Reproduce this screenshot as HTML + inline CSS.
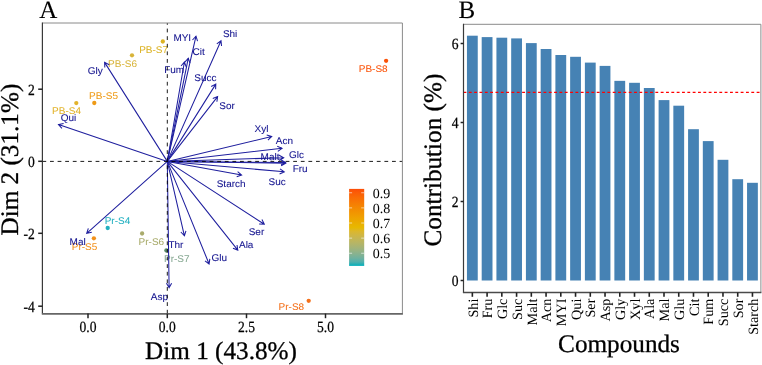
<!DOCTYPE html>
<html><head><meta charset="utf-8"><style>html,body{margin:0;padding:0;background:#fff;}svg{display:block;will-change:transform;}text{text-rendering:geometricPrecision;}</style></head>
<body><svg width="762" height="365" viewBox="0 0 762 365">
<rect width="762" height="365" fill="#fff"/>
<circle cx="386.1" cy="60.8" r="2.15" fill="#fb5208"/>
<circle cx="308.7" cy="300.8" r="2.15" fill="#f4701a"/>
<circle cx="162.8" cy="41.5" r="2.15" fill="#dcb324"/>
<circle cx="132.0" cy="55.3" r="2.15" fill="#d8b43a"/>
<circle cx="94.3" cy="103.0" r="2.15" fill="#ee9a16"/>
<circle cx="76.3" cy="103.1" r="2.15" fill="#e2b32a"/>
<circle cx="107.7" cy="228.0" r="2.15" fill="#22b0c0"/>
<circle cx="93.9" cy="238.3" r="2.15" fill="#f2901a"/>
<circle cx="142.1" cy="233.5" r="2.15" fill="#a9ab6c"/>
<circle cx="166.4" cy="250.5" r="2.15" fill="#5a8a68"/>
<text transform="translate(358.8,72.39999999999999) scale(1.03,1)" font-family="Liberation Sans, sans-serif" font-size="9.7" fill="#fb5208" stroke="#fb5208" stroke-width="0.05">PB-S8</text>
<text transform="translate(278.6,310.1) scale(1.03,1)" font-family="Liberation Sans, sans-serif" font-size="9.7" fill="#f4701a" stroke="#f4701a" stroke-width="0.05">Pr-S8</text>
<text transform="translate(139.20000000000002,52.9) scale(1.03,1)" font-family="Liberation Sans, sans-serif" font-size="9.7" fill="#dcb324" stroke="#dcb324" stroke-width="0.05">PB-S7</text>
<text transform="translate(108.1,67.19999999999999) scale(1.03,1)" font-family="Liberation Sans, sans-serif" font-size="9.7" fill="#d8b43a" stroke="#d8b43a" stroke-width="0.05">PB-S6</text>
<text transform="translate(89.1,99.0) scale(1.03,1)" font-family="Liberation Sans, sans-serif" font-size="9.7" fill="#ee9a16" stroke="#ee9a16" stroke-width="0.05">PB-S5</text>
<text transform="translate(52.099999999999994,114.19999999999999) scale(1.03,1)" font-family="Liberation Sans, sans-serif" font-size="9.7" fill="#e2b32a" stroke="#e2b32a" stroke-width="0.05">PB-S4</text>
<text transform="translate(104.7,224.1) scale(1.03,1)" font-family="Liberation Sans, sans-serif" font-size="9.7" fill="#22b0c0" stroke="#22b0c0" stroke-width="0.05">Pr-S4</text>
<text transform="translate(71.8,250.0) scale(1.03,1)" font-family="Liberation Sans, sans-serif" font-size="9.7" fill="#f2901a" stroke="#f2901a" stroke-width="0.05">Pr-S5</text>
<text transform="translate(138.60000000000002,245.1) scale(1.03,1)" font-family="Liberation Sans, sans-serif" font-size="9.7" fill="#a9ab6c" stroke="#a9ab6c" stroke-width="0.05">Pr-S6</text>
<text transform="translate(164.0,262.20000000000005) scale(1.03,1)" font-family="Liberation Sans, sans-serif" font-size="9.7" fill="#86a892" stroke="#86a892" stroke-width="0.05">Pr-S7</text>
<path d="M167.3,161.4L196.00,36.20M192.46,40.01L196.00,36.20L197.53,41.17" fill="none" stroke="#1f1f9e" stroke-width="1.05" stroke-linejoin="miter"/>
<path d="M167.3,161.4L221.00,40.80M216.79,43.86L221.00,40.80L221.54,45.97" fill="none" stroke="#1f1f9e" stroke-width="1.05" stroke-linejoin="miter"/>
<path d="M167.3,161.4L188.30,58.20M184.85,62.09L188.30,58.20L189.95,63.13" fill="none" stroke="#1f1f9e" stroke-width="1.05" stroke-linejoin="miter"/>
<path d="M167.3,161.4L184.40,62.00M181.07,66.00L184.40,62.00L186.20,66.88" fill="none" stroke="#1f1f9e" stroke-width="1.05" stroke-linejoin="miter"/>
<path d="M167.3,161.4L215.80,84.10M211.20,86.53L215.80,84.10L215.61,89.30" fill="none" stroke="#1f1f9e" stroke-width="1.05" stroke-linejoin="miter"/>
<path d="M167.3,161.4L217.60,96.60M212.78,98.56L217.60,96.60L216.89,101.75" fill="none" stroke="#1f1f9e" stroke-width="1.05" stroke-linejoin="miter"/>
<path d="M167.3,161.4L104.60,62.40M104.81,67.60L104.60,62.40L109.21,64.81" fill="none" stroke="#1f1f9e" stroke-width="1.05" stroke-linejoin="miter"/>
<path d="M167.3,161.4L58.50,124.50M61.93,128.41L58.50,124.50L63.60,123.48" fill="none" stroke="#1f1f9e" stroke-width="1.05" stroke-linejoin="miter"/>
<path d="M167.3,161.4L271.70,136.50M266.72,135.02L271.70,136.50L267.92,140.07" fill="none" stroke="#1f1f9e" stroke-width="1.05" stroke-linejoin="miter"/>
<path d="M167.3,161.4L282.00,148.30M277.23,146.23L282.00,148.30L277.82,151.39" fill="none" stroke="#1f1f9e" stroke-width="1.05" stroke-linejoin="miter"/>
<path d="M167.3,161.4L283.70,157.70M279.12,155.24L283.70,157.70L279.28,160.44" fill="none" stroke="#1f1f9e" stroke-width="1.05" stroke-linejoin="miter"/>
<path d="M167.3,161.4L285.60,162.50M281.12,159.86L285.60,162.50L281.07,165.06" fill="none" stroke="#1f1f9e" stroke-width="1.05" stroke-linejoin="miter"/>
<path d="M167.3,161.4L285.70,163.30M281.24,160.63L285.70,163.30L281.16,165.83" fill="none" stroke="#1f1f9e" stroke-width="1.05" stroke-linejoin="miter"/>
<path d="M167.3,161.4L284.30,171.80M280.04,168.81L284.30,171.80L279.58,173.99" fill="none" stroke="#1f1f9e" stroke-width="1.05" stroke-linejoin="miter"/>
<path d="M167.3,161.4L241.60,175.00M237.64,171.63L241.60,175.00L236.70,176.75" fill="none" stroke="#1f1f9e" stroke-width="1.05" stroke-linejoin="miter"/>
<path d="M167.3,161.4L264.30,224.20M261.93,219.57L264.30,224.20L259.11,223.94" fill="none" stroke="#1f1f9e" stroke-width="1.05" stroke-linejoin="miter"/>
<path d="M167.3,161.4L237.80,250.10M237.03,244.96L237.80,250.10L232.96,248.19" fill="none" stroke="#1f1f9e" stroke-width="1.05" stroke-linejoin="miter"/>
<path d="M167.3,161.4L209.10,264.00M209.81,258.85L209.10,264.00L204.99,260.81" fill="none" stroke="#1f1f9e" stroke-width="1.05" stroke-linejoin="miter"/>
<path d="M167.3,161.4L184.40,235.80M185.93,230.83L184.40,235.80L180.86,231.99" fill="none" stroke="#1f1f9e" stroke-width="1.05" stroke-linejoin="miter"/>
<path d="M167.3,161.4L169.10,287.80M171.64,283.26L169.10,287.80L166.44,283.33" fill="none" stroke="#1f1f9e" stroke-width="1.05" stroke-linejoin="miter"/>
<path d="M167.3,161.4L86.70,233.30M91.79,232.24L86.70,233.30L88.33,228.36" fill="none" stroke="#1f1f9e" stroke-width="1.05" stroke-linejoin="miter"/>
<text transform="translate(173.4,40.6) scale(1.03,1)" font-family="Liberation Sans, sans-serif" font-size="9.7" fill="#14148f" stroke="#14148f" stroke-width="0.08">MYI</text>
<text transform="translate(222.9,37.400000000000006) scale(1.03,1)" font-family="Liberation Sans, sans-serif" font-size="9.7" fill="#14148f" stroke="#14148f" stroke-width="0.08">Shi</text>
<text transform="translate(192.6,54.5) scale(1.03,1)" font-family="Liberation Sans, sans-serif" font-size="9.7" fill="#14148f" stroke="#14148f" stroke-width="0.08">Cit</text>
<text transform="translate(164.2,73.10000000000001) scale(1.03,1)" font-family="Liberation Sans, sans-serif" font-size="9.7" fill="#14148f" stroke="#14148f" stroke-width="0.08">Fum</text>
<text transform="translate(194.3,80.5) scale(1.03,1)" font-family="Liberation Sans, sans-serif" font-size="9.7" fill="#14148f" stroke="#14148f" stroke-width="0.08">Succ</text>
<text transform="translate(219.3,108.8) scale(1.03,1)" font-family="Liberation Sans, sans-serif" font-size="9.7" fill="#14148f" stroke="#14148f" stroke-width="0.08">Sor</text>
<text transform="translate(87.7,73.8) scale(1.03,1)" font-family="Liberation Sans, sans-serif" font-size="9.7" fill="#14148f" stroke="#14148f" stroke-width="0.08">Gly</text>
<text transform="translate(60.7,120.8) scale(1.03,1)" font-family="Liberation Sans, sans-serif" font-size="9.7" fill="#14148f" stroke="#14148f" stroke-width="0.08">Qui</text>
<text transform="translate(254.6,132.0) scale(1.03,1)" font-family="Liberation Sans, sans-serif" font-size="9.7" fill="#14148f" stroke="#14148f" stroke-width="0.08">Xyl</text>
<text transform="translate(275.8,144.1) scale(1.03,1)" font-family="Liberation Sans, sans-serif" font-size="9.7" fill="#14148f" stroke="#14148f" stroke-width="0.08">Acn</text>
<text transform="translate(260.6,159.79999999999998) scale(1.03,1)" font-family="Liberation Sans, sans-serif" font-size="9.7" fill="#14148f" stroke="#14148f" stroke-width="0.08">Malt</text>
<text transform="translate(288.9,158.0) scale(1.03,1)" font-family="Liberation Sans, sans-serif" font-size="9.7" fill="#14148f" stroke="#14148f" stroke-width="0.08">Glc</text>
<text transform="translate(292.7,171.7) scale(1.03,1)" font-family="Liberation Sans, sans-serif" font-size="9.7" fill="#14148f" stroke="#14148f" stroke-width="0.08">Fru</text>
<text transform="translate(268.6,185.2) scale(1.03,1)" font-family="Liberation Sans, sans-serif" font-size="9.7" fill="#14148f" stroke="#14148f" stroke-width="0.08">Suc</text>
<text transform="translate(216.7,187.0) scale(1.03,1)" font-family="Liberation Sans, sans-serif" font-size="9.7" fill="#14148f" stroke="#14148f" stroke-width="0.08">Starch</text>
<text transform="translate(248.7,234.7) scale(1.03,1)" font-family="Liberation Sans, sans-serif" font-size="9.7" fill="#14148f" stroke="#14148f" stroke-width="0.08">Ser</text>
<text transform="translate(239.0,247.6) scale(1.03,1)" font-family="Liberation Sans, sans-serif" font-size="9.7" fill="#14148f" stroke="#14148f" stroke-width="0.08">Ala</text>
<text transform="translate(211.4,261.09999999999997) scale(1.03,1)" font-family="Liberation Sans, sans-serif" font-size="9.7" fill="#14148f" stroke="#14148f" stroke-width="0.08">Glu</text>
<text transform="translate(168.4,247.7) scale(1.03,1)" font-family="Liberation Sans, sans-serif" font-size="9.7" fill="#14148f" stroke="#14148f" stroke-width="0.08">Thr</text>
<text transform="translate(150.8,299.9) scale(1.03,1)" font-family="Liberation Sans, sans-serif" font-size="9.7" fill="#14148f" stroke="#14148f" stroke-width="0.08">Asp</text>
<text transform="translate(69.6,244.89999999999998) scale(1.03,1)" font-family="Liberation Sans, sans-serif" font-size="9.7" fill="#14148f" stroke="#14148f" stroke-width="0.08">Mal</text>
<line x1="42.4" y1="161.4" x2="402.4" y2="161.4" stroke="#000" stroke-width="0.9" stroke-dasharray="3.8 3.8"/>
<line x1="167.3" y1="313.6" x2="167.3" y2="23.0" stroke="#000" stroke-width="0.9" stroke-dasharray="3.8 3.8"/>
<defs><linearGradient id="cb" x1="0" y1="1" x2="0" y2="0"><stop offset="0.000" stop-color="#00afbb"/><stop offset="0.050" stop-color="#4fb0ad"/><stop offset="0.100" stop-color="#6fb19f"/><stop offset="0.150" stop-color="#85b291"/><stop offset="0.200" stop-color="#98b383"/><stop offset="0.250" stop-color="#a8b474"/><stop offset="0.300" stop-color="#b7b565"/><stop offset="0.350" stop-color="#c4b655"/><stop offset="0.400" stop-color="#d0b643"/><stop offset="0.450" stop-color="#dcb72c"/><stop offset="0.500" stop-color="#e7b800"/><stop offset="0.550" stop-color="#eaaf00"/><stop offset="0.600" stop-color="#eda600"/><stop offset="0.650" stop-color="#f09d01"/><stop offset="0.700" stop-color="#f29301"/><stop offset="0.750" stop-color="#f48a02"/><stop offset="0.800" stop-color="#f67f03"/><stop offset="0.850" stop-color="#f87404"/><stop offset="0.900" stop-color="#f96905"/><stop offset="0.950" stop-color="#fb5c06"/><stop offset="1.000" stop-color="#fc4e07"/></linearGradient></defs>
<rect x="349.1" y="188.9" width="15.1" height="77" fill="url(#cb)"/>
<line x1="349.1" y1="192.75" x2="352.1" y2="192.75" stroke="#fff" stroke-width="0.6"/><line x1="361.2" y1="192.75" x2="364.2" y2="192.75" stroke="#fff" stroke-width="0.6"/>
<text x="372.8" y="197.55" font-family="Liberation Serif, serif" font-size="14" fill="#000">0.9</text>
<line x1="349.1" y1="207.875" x2="352.1" y2="207.875" stroke="#fff" stroke-width="0.6"/><line x1="361.2" y1="207.875" x2="364.2" y2="207.875" stroke="#fff" stroke-width="0.6"/>
<text x="372.8" y="212.675" font-family="Liberation Serif, serif" font-size="14" fill="#000">0.8</text>
<line x1="349.1" y1="223.0" x2="352.1" y2="223.0" stroke="#fff" stroke-width="0.6"/><line x1="361.2" y1="223.0" x2="364.2" y2="223.0" stroke="#fff" stroke-width="0.6"/>
<text x="372.8" y="227.8" font-family="Liberation Serif, serif" font-size="14" fill="#000">0.7</text>
<line x1="349.1" y1="238.125" x2="352.1" y2="238.125" stroke="#fff" stroke-width="0.6"/><line x1="361.2" y1="238.125" x2="364.2" y2="238.125" stroke="#fff" stroke-width="0.6"/>
<text x="372.8" y="242.925" font-family="Liberation Serif, serif" font-size="14" fill="#000">0.6</text>
<line x1="349.1" y1="253.25" x2="352.1" y2="253.25" stroke="#fff" stroke-width="0.6"/><line x1="361.2" y1="253.25" x2="364.2" y2="253.25" stroke="#fff" stroke-width="0.6"/>
<text x="372.8" y="258.05" font-family="Liberation Serif, serif" font-size="14" fill="#000">0.5</text>
<path d="M42.4,23.0H402.4V313.6" fill="none" stroke="#8a8a8a" stroke-width="1"/>
<path d="M42.4,22.5V313.6" fill="none" stroke="#3a3a3a" stroke-width="1.2"/>
<path d="M41.8,313.90000000000003H402.9" fill="none" stroke="#666" stroke-width="1.7"/>
<line x1="38.2" y1="89.2" x2="42.4" y2="89.2" stroke="#222" stroke-width="1.5"/>
<text transform="translate(34.9,94.8) scale(0.87,1)" font-family="Liberation Serif, serif" font-size="15.6" text-anchor="end" fill="#000" stroke="#000" stroke-width="0.25">2</text>
<line x1="38.2" y1="161.3" x2="42.4" y2="161.3" stroke="#222" stroke-width="1.5"/>
<text transform="translate(34.9,166.9) scale(0.87,1)" font-family="Liberation Serif, serif" font-size="15.6" text-anchor="end" fill="#000" stroke="#000" stroke-width="0.25">0</text>
<line x1="38.2" y1="233.3" x2="42.4" y2="233.3" stroke="#222" stroke-width="1.5"/>
<text transform="translate(34.9,238.9) scale(0.87,1)" font-family="Liberation Serif, serif" font-size="15.6" text-anchor="end" fill="#000" stroke="#000" stroke-width="0.25">-2</text>
<line x1="38.2" y1="306.2" x2="42.4" y2="306.2" stroke="#222" stroke-width="1.5"/>
<text transform="translate(34.9,311.8) scale(0.87,1)" font-family="Liberation Serif, serif" font-size="15.6" text-anchor="end" fill="#000" stroke="#000" stroke-width="0.25">-4</text>
<line x1="88.0" y1="313.6" x2="88.0" y2="318.2" stroke="#222" stroke-width="1.5"/>
<text transform="translate(88.0,331.8) scale(0.87,1)" font-family="Liberation Serif, serif" font-size="15.6" text-anchor="middle" fill="#000" stroke="#000" stroke-width="0.25">0.0</text>
<line x1="167.3" y1="313.6" x2="167.3" y2="318.2" stroke="#222" stroke-width="1.5"/>
<text transform="translate(167.3,331.8) scale(0.87,1)" font-family="Liberation Serif, serif" font-size="15.6" text-anchor="middle" fill="#000" stroke="#000" stroke-width="0.25">0.0</text>
<line x1="246.5" y1="313.6" x2="246.5" y2="318.2" stroke="#222" stroke-width="1.5"/>
<text transform="translate(246.5,331.8) scale(0.87,1)" font-family="Liberation Serif, serif" font-size="15.6" text-anchor="middle" fill="#000" stroke="#000" stroke-width="0.25">2.5</text>
<line x1="325.5" y1="313.6" x2="325.5" y2="318.2" stroke="#222" stroke-width="1.5"/>
<text transform="translate(325.5,331.8) scale(0.87,1)" font-family="Liberation Serif, serif" font-size="15.6" text-anchor="middle" fill="#000" stroke="#000" stroke-width="0.25">5.0</text>
<text x="221" y="358.8" font-family="Liberation Serif, serif" font-size="25.2" text-anchor="middle" fill="#000" stroke="#000" stroke-width="0.3">Dim 1 (43.8%)</text>
<text transform="translate(18.3,159.6) rotate(-90)" font-family="Liberation Serif, serif" font-size="25.2" text-anchor="middle" fill="#000" stroke="#000" stroke-width="0.3">Dim 2 (31.1%)</text>
<text x="39.2" y="17.6" font-family="Liberation Serif, serif" font-size="25" fill="#000" stroke="#000" stroke-width="0.12">A</text>
<rect x="466.95" y="35.7" width="10.8" height="244.80" fill="#4682B4"/>
<rect x="481.69" y="37.1" width="10.8" height="243.40" fill="#4682B4"/>
<rect x="496.43" y="37.7" width="10.8" height="242.80" fill="#4682B4"/>
<rect x="511.18" y="38.4" width="10.8" height="242.10" fill="#4682B4"/>
<rect x="525.92" y="43.1" width="10.8" height="237.40" fill="#4682B4"/>
<rect x="540.66" y="49.0" width="10.8" height="231.50" fill="#4682B4"/>
<rect x="555.40" y="55.0" width="10.8" height="225.50" fill="#4682B4"/>
<rect x="570.14" y="56.8" width="10.8" height="223.70" fill="#4682B4"/>
<rect x="584.89" y="62.6" width="10.8" height="217.90" fill="#4682B4"/>
<rect x="599.63" y="65.9" width="10.8" height="214.60" fill="#4682B4"/>
<rect x="614.37" y="80.85" width="10.8" height="199.65" fill="#4682B4"/>
<rect x="629.11" y="82.8" width="10.8" height="197.70" fill="#4682B4"/>
<rect x="643.86" y="88.0" width="10.8" height="192.50" fill="#4682B4"/>
<rect x="658.60" y="100.1" width="10.8" height="180.40" fill="#4682B4"/>
<rect x="673.34" y="105.7" width="10.8" height="174.80" fill="#4682B4"/>
<rect x="688.08" y="129.2" width="10.8" height="151.30" fill="#4682B4"/>
<rect x="702.82" y="141.1" width="10.8" height="139.40" fill="#4682B4"/>
<rect x="717.57" y="159.8" width="10.8" height="120.70" fill="#4682B4"/>
<rect x="732.31" y="179.2" width="10.8" height="101.30" fill="#4682B4"/>
<rect x="747.05" y="182.8" width="10.8" height="97.70" fill="#4682B4"/>
<line x1="463.5" y1="92.4" x2="760.9" y2="92.4" stroke="#ff0000" stroke-width="1.1" stroke-dasharray="2.85 2.48"/>
<path d="M463.5,24.3H760.9V292.5" fill="none" stroke="#8a8a8a" stroke-width="1"/>
<path d="M463.5,23.8V292.5" fill="none" stroke="#3a3a3a" stroke-width="1.2"/>
<path d="M462.9,292.6H761.4" fill="none" stroke="#4a4a4a" stroke-width="1.5"/>
<line x1="460.6" y1="280.50" x2="463.5" y2="280.50" stroke="#222" stroke-width="1.5"/>
<text transform="translate(458.6,285.90) scale(0.87,1)" font-family="Liberation Serif, serif" font-size="15.6" text-anchor="end" fill="#000" stroke="#000" stroke-width="0.25">0</text>
<line x1="460.6" y1="201.50" x2="463.5" y2="201.50" stroke="#222" stroke-width="1.5"/>
<text transform="translate(458.6,206.90) scale(0.87,1)" font-family="Liberation Serif, serif" font-size="15.6" text-anchor="end" fill="#000" stroke="#000" stroke-width="0.25">2</text>
<line x1="460.6" y1="122.50" x2="463.5" y2="122.50" stroke="#222" stroke-width="1.5"/>
<text transform="translate(458.6,127.90) scale(0.87,1)" font-family="Liberation Serif, serif" font-size="15.6" text-anchor="end" fill="#000" stroke="#000" stroke-width="0.25">4</text>
<line x1="460.6" y1="43.50" x2="463.5" y2="43.50" stroke="#222" stroke-width="1.5"/>
<text transform="translate(458.6,48.90) scale(0.87,1)" font-family="Liberation Serif, serif" font-size="15.6" text-anchor="end" fill="#000" stroke="#000" stroke-width="0.25">6</text>
<line x1="472.35" y1="292.5" x2="472.35" y2="296.8" stroke="#222" stroke-width="1.6"/>
<text transform="translate(477.55,298.6) rotate(-90)" font-family="Liberation Serif, serif" font-size="14.2" text-anchor="end" fill="#000">Shi</text>
<line x1="487.09" y1="292.5" x2="487.09" y2="296.8" stroke="#222" stroke-width="1.6"/>
<text transform="translate(492.29,298.6) rotate(-90)" font-family="Liberation Serif, serif" font-size="14.2" text-anchor="end" fill="#000">Fru</text>
<line x1="501.83" y1="292.5" x2="501.83" y2="296.8" stroke="#222" stroke-width="1.6"/>
<text transform="translate(507.03,298.6) rotate(-90)" font-family="Liberation Serif, serif" font-size="14.2" text-anchor="end" fill="#000">Glc</text>
<line x1="516.58" y1="292.5" x2="516.58" y2="296.8" stroke="#222" stroke-width="1.6"/>
<text transform="translate(521.78,298.6) rotate(-90)" font-family="Liberation Serif, serif" font-size="14.2" text-anchor="end" fill="#000">Suc</text>
<line x1="531.32" y1="292.5" x2="531.32" y2="296.8" stroke="#222" stroke-width="1.6"/>
<text transform="translate(536.52,298.6) rotate(-90)" font-family="Liberation Serif, serif" font-size="14.2" text-anchor="end" fill="#000">Malt</text>
<line x1="546.06" y1="292.5" x2="546.06" y2="296.8" stroke="#222" stroke-width="1.6"/>
<text transform="translate(551.26,298.6) rotate(-90)" font-family="Liberation Serif, serif" font-size="14.2" text-anchor="end" fill="#000">Acn</text>
<line x1="560.80" y1="292.5" x2="560.80" y2="296.8" stroke="#222" stroke-width="1.6"/>
<text transform="translate(566.00,298.6) rotate(-90)" font-family="Liberation Serif, serif" font-size="14.2" text-anchor="end" fill="#000">MYI</text>
<line x1="575.54" y1="292.5" x2="575.54" y2="296.8" stroke="#222" stroke-width="1.6"/>
<text transform="translate(580.74,298.6) rotate(-90)" font-family="Liberation Serif, serif" font-size="14.2" text-anchor="end" fill="#000">Qui</text>
<line x1="590.29" y1="292.5" x2="590.29" y2="296.8" stroke="#222" stroke-width="1.6"/>
<text transform="translate(595.49,298.6) rotate(-90)" font-family="Liberation Serif, serif" font-size="14.2" text-anchor="end" fill="#000">Ser</text>
<line x1="605.03" y1="292.5" x2="605.03" y2="296.8" stroke="#222" stroke-width="1.6"/>
<text transform="translate(610.23,298.6) rotate(-90)" font-family="Liberation Serif, serif" font-size="14.2" text-anchor="end" fill="#000">Asp</text>
<line x1="619.77" y1="292.5" x2="619.77" y2="296.8" stroke="#222" stroke-width="1.6"/>
<text transform="translate(624.97,298.6) rotate(-90)" font-family="Liberation Serif, serif" font-size="14.2" text-anchor="end" fill="#000">Gly</text>
<line x1="634.51" y1="292.5" x2="634.51" y2="296.8" stroke="#222" stroke-width="1.6"/>
<text transform="translate(639.71,298.6) rotate(-90)" font-family="Liberation Serif, serif" font-size="14.2" text-anchor="end" fill="#000">Xyl</text>
<line x1="649.26" y1="292.5" x2="649.26" y2="296.8" stroke="#222" stroke-width="1.6"/>
<text transform="translate(654.46,298.6) rotate(-90)" font-family="Liberation Serif, serif" font-size="14.2" text-anchor="end" fill="#000">Ala</text>
<line x1="664.00" y1="292.5" x2="664.00" y2="296.8" stroke="#222" stroke-width="1.6"/>
<text transform="translate(669.20,298.6) rotate(-90)" font-family="Liberation Serif, serif" font-size="14.2" text-anchor="end" fill="#000">Mal</text>
<line x1="678.74" y1="292.5" x2="678.74" y2="296.8" stroke="#222" stroke-width="1.6"/>
<text transform="translate(683.94,298.6) rotate(-90)" font-family="Liberation Serif, serif" font-size="14.2" text-anchor="end" fill="#000">Glu</text>
<line x1="693.48" y1="292.5" x2="693.48" y2="296.8" stroke="#222" stroke-width="1.6"/>
<text transform="translate(698.68,298.6) rotate(-90)" font-family="Liberation Serif, serif" font-size="14.2" text-anchor="end" fill="#000">Cit</text>
<line x1="708.22" y1="292.5" x2="708.22" y2="296.8" stroke="#222" stroke-width="1.6"/>
<text transform="translate(713.42,298.6) rotate(-90)" font-family="Liberation Serif, serif" font-size="14.2" text-anchor="end" fill="#000">Fum</text>
<line x1="722.97" y1="292.5" x2="722.97" y2="296.8" stroke="#222" stroke-width="1.6"/>
<text transform="translate(728.17,298.6) rotate(-90)" font-family="Liberation Serif, serif" font-size="14.2" text-anchor="end" fill="#000">Succ</text>
<line x1="737.71" y1="292.5" x2="737.71" y2="296.8" stroke="#222" stroke-width="1.6"/>
<text transform="translate(742.91,298.6) rotate(-90)" font-family="Liberation Serif, serif" font-size="14.2" text-anchor="end" fill="#000">Sor</text>
<line x1="752.45" y1="292.5" x2="752.45" y2="296.8" stroke="#222" stroke-width="1.6"/>
<text transform="translate(757.65,298.6) rotate(-90)" font-family="Liberation Serif, serif" font-size="14.2" text-anchor="end" fill="#000">Starch</text>
<text x="619" y="351.5" font-family="Liberation Serif, serif" font-size="25.2" text-anchor="middle" fill="#000" stroke="#000" stroke-width="0.3">Compounds</text>
<text transform="translate(441,160.1) rotate(-90)" font-family="Liberation Serif, serif" font-size="25.2" text-anchor="middle" fill="#000" stroke="#000" stroke-width="0.3">Contribution (%)</text>
<text x="458.6" y="17.7" font-family="Liberation Serif, serif" font-size="25" fill="#000" stroke="#000" stroke-width="0.12">B</text>
</svg></body></html>
